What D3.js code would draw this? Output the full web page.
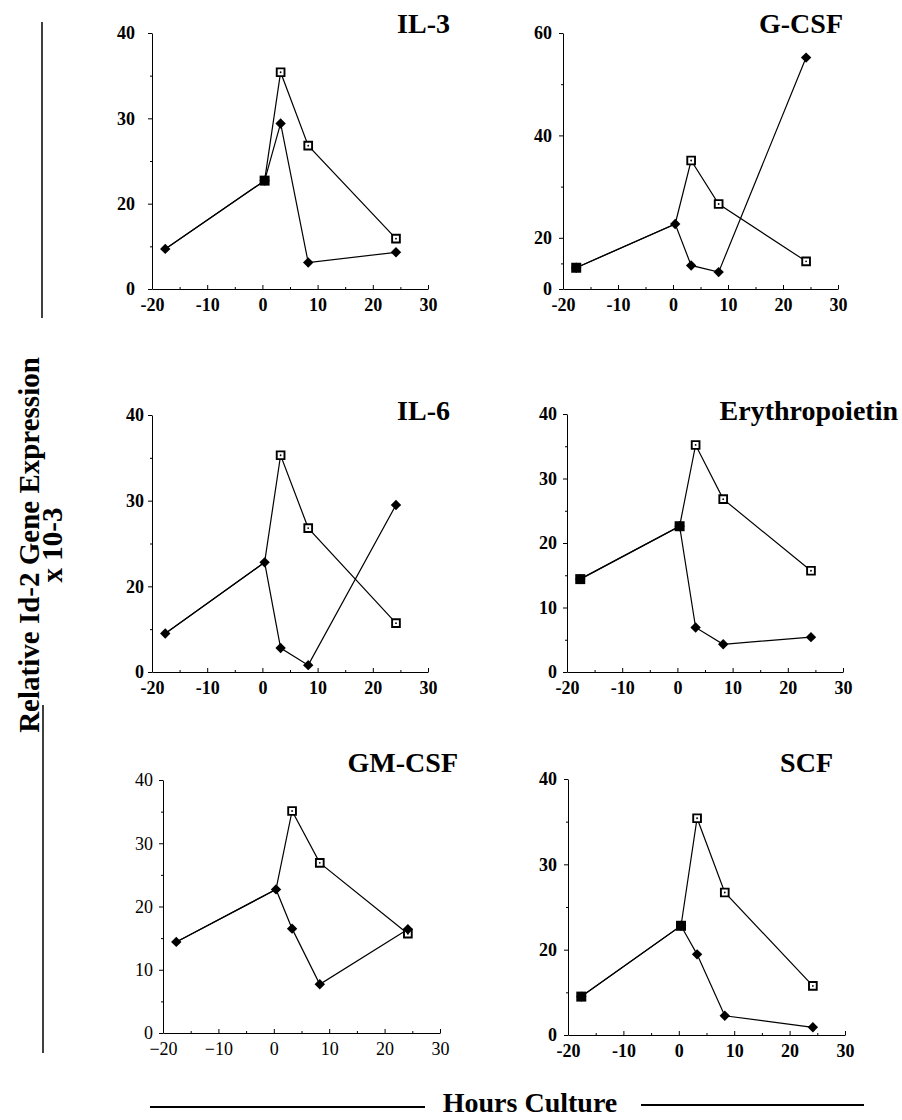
<!DOCTYPE html>
<html>
<head>
<meta charset="utf-8">
<script src="https://cdn.jsdelivr.net/npm/d3@7"></script>
<style>
  body { margin: 0; background: #fff; }
  svg { display: block; }
  text { font-family: "Liberation Serif", "Times New Roman", serif; fill: #000; }
  .tick text { font-size: 18px; font-weight: bold; }
  .plain .tick text { font-weight: normal; }
  .domain, .tick line { stroke: #000; stroke-width: 1px; }
</style>
</head>
<body>
<svg></svg>
<script>
/* global d3 */

// Size of the page
let width = 902,
    height = 1120;

// Sampling times (hours of culture), shared by all panels
let hours = [-17.6, 0.4, 3.3, 8.3, 24.2];
let xTicks = [-20, -10, 0, 10, 20, 30];

let titles = ["IL-3", "G-CSF", "IL-6", "Erythropoietin", "GM-CSF", "SCF"];

// Filled diamonds: cells cultured with the factor
let il3Treated  = [9.4, 22.7, 29.4, 6.2, 8.6];
let gcsfTreated = [8.3, 22.7, 9.2, 6.6, 55.2];
let il6Treated  = [9.0, 22.8, 5.6, 1.6, 29.5];
let epoTreated  = [14.4, 22.6, 6.9, 4.3, 5.4];
let gmTreated   = [14.4, 22.7, 16.5, 7.7, 16.4];
let scfTreated  = [9.0, 22.8, 18.9, 4.5, 1.8];

// Open squares: control (null where no square shows)
let il3Control  = [null, 22.7, 35.4, 26.8, 11.8];
let gcsfControl = [8.3, null, 35.1, 26.6, 10.8];
let il6Control  = [null, null, 35.3, 26.8, 11.4];
let epoControl  = [14.4, 22.6, 35.2, 26.8, 15.7];
let gmControl   = [null, null, 35.1, 26.9, 15.7];
let scfControl  = [9.0, 22.8, 35.4, 26.7, 11.5];

// Y tick labels
let ticks40     = [0, 20, 30, 40];
let ticks60     = [0, 20, 40, 60];
let ticks40full = [0, 10, 20, 30, 40];

// Panel layout (broken = the 0-20 stretch is drawn as short as one 10 step)
let panels = [
    {title: titles[0], treated: il3Treated, control: il3Control, ticks: ticks40, broken: true,
     left: 152, top: 33, w: 276, h: 256, titleX: 450, titleY: 33, gap: 17},
    {title: titles[1], treated: gcsfTreated, control: gcsfControl, ticks: ticks60, broken: true,
     left: 563, top: 33, w: 275, h: 256, titleX: 843, titleY: 33, gap: 11},
    {title: titles[2], treated: il6Treated, control: il6Control, ticks: ticks40, broken: true,
     left: 152, top: 415, w: 276, h: 257, titleX: 450, titleY: 420, gap: 8},
    {title: titles[3], treated: epoTreated, control: epoControl, ticks: ticks40full, broken: false,
     left: 567, top: 414, w: 276, h: 258, titleX: 898, titleY: 420, gap: 10},
    {title: titles[4], treated: gmTreated, control: gmControl, ticks: ticks40full, broken: false,
     left: 163, top: 780, w: 277, h: 253, titleX: 458, titleY: 772, gap: 10, plain: true},
    {title: titles[5], treated: scfTreated, control: scfControl, ticks: ticks40, broken: true,
     left: 568, top: 779, w: 277, h: 256, titleX: 833, titleY: 772, gap: 11}
];

let svg = d3.select("svg")
    .attr("width", width)
    .attr("height", height);

let diamond = d3.symbol().type(d3.symbolSquare).size(54);
let square = d3.symbol().type(d3.symbolSquare).size(60);
let filledSquare = d3.symbol().type(d3.symbolSquare).size(100);

for (let p of panels) {
    let g = svg.append("g")
        .attr("transform", `translate(${p.left},${p.top})`)
        .attr("class", p.plain ? "plain" : null);

    let x = d3.scaleLinear().domain([-20, 30]).range([0, p.w]);
    let yMax = d3.max(p.ticks);
    let y = p.broken
        ? d3.scaleLinear().domain([0, 20, yMax]).range([p.h, p.h - p.h * 10 / (yMax - 10), 0])
        : d3.scaleLinear().domain([0, yMax]).range([p.h, 0]);

    // minor ticks half way between the labelled ones
    let yMinor = d3.pairs(p.ticks, (a, b) => (a + b) / 2);
    let xMinor = d3.pairs(xTicks, (a, b) => (a + b) / 2);

    let fmt = p.plain ? (d => d < 0 ? "\u2212" + (-d) : d) : (d => d);

    g.append("g")
        .call(d3.axisLeft(y).tickValues(p.ticks).tickSizeInner(4).tickSizeOuter(0)
            .tickPadding(p.gap - 4).tickFormat(fmt));
    g.append("g")
        .call(d3.axisLeft(y).tickValues(yMinor).tickSize(2).tickFormat(""))
        .select(".domain").remove();

    g.append("g")
        .attr("transform", `translate(0,${p.h})`)
        .call(d3.axisBottom(x).tickValues(xTicks).tickSizeInner(-4).tickSizeOuter(0)
            .tickPadding(9).tickFormat(fmt));
    g.append("g")
        .attr("transform", `translate(0,${p.h})`)
        .call(d3.axisBottom(x).tickValues(xMinor).tickSize(-2).tickFormat(""))
        .select(".domain").remove();

    g.selectAll(".tick text").style("fill", "#000");

    // Series lines
    let line = d3.line()
        .x(d => x(d[0]))
        .y(d => y(d[1]));

    let treatedPts = hours.map((t, i) => [t, p.treated[i]]);
    let controlPts = hours.map((t, i) => [t, p.control[i] != null ? p.control[i] : p.treated[i]]);

    for (let pts of [controlPts, treatedPts]) {
        g.append("path")
            .datum(pts)
            .attr("d", line)
            .style("fill", "none")
            .style("stroke", "#000")
            .style("stroke-width", "1.2px");
    }

    let shared = (v, i) => v != null && v === p.treated[i];

    // Open squares with a dot
    let open = hours.map((t, i) => [t, p.control[i], i])
        .filter(d => d[1] != null && !shared(d[1], d[2]));
    g.selectAll(".ctl")
        .data(open)
        .enter().append("path")
        .attr("class", "ctl")
        .attr("d", square)
        .attr("transform", d => `translate(${x(d[0])},${y(d[1])})`)
        .style("fill", "#fff")
        .style("stroke", "#000")
        .style("stroke-width", "1.9px");
    g.selectAll(".dot")
        .data(open)
        .enter().append("circle")
        .attr("class", "dot")
        .attr("cx", d => x(d[0]))
        .attr("cy", d => y(d[1]))
        .attr("r", 0.9)
        .style("fill", "#000");

    // Diamonds
    g.selectAll(".trt")
        .data(treatedPts)
        .enter().append("path")
        .attr("class", "trt")
        .attr("d", diamond)
        .attr("transform", d => `translate(${x(d[0])},${y(d[1])}) rotate(45)`)
        .style("fill", "#000");

    // Where both series meet the marker looks like a filled square
    let both = hours.map((t, i) => [t, p.control[i], i])
        .filter(d => shared(d[1], d[2]));
    g.selectAll(".both")
        .data(both)
        .enter().append("path")
        .attr("class", "both")
        .attr("d", filledSquare)
        .attr("transform", d => `translate(${x(d[0])},${y(d[1])})`)
        .style("fill", "#000");

    // Panel title
    svg.append("text")
        .attr("x", p.titleX)
        .attr("y", p.titleY)
        .attr("text-anchor", "end")
        .style("font-size", "28px")
        .style("font-weight", "bold")
        .text(p.title);
}

// Shared y label
let ylab = svg.append("g")
    .attr("transform", "translate(39,545) rotate(-90)");
ylab.append("text")
    .attr("text-anchor", "middle")
    .style("font-size", "29px")
    .style("font-weight", "bold")
    .text("Relative Id-2 Gene Expression");
ylab.append("text")
    .attr("y", 23)
    .attr("text-anchor", "middle")
    .style("font-size", "29px")
    .style("font-weight", "bold")
    .text("x 10-3");

// Brackets at the left
svg.append("line")
    .attr("x1", 42).attr("x2", 42).attr("y1", 22).attr("y2", 318)
    .style("stroke", "#000").style("stroke-width", "1.5px");
svg.append("line")
    .attr("x1", 43).attr("x2", 43).attr("y1", 705).attr("y2", 1053)
    .style("stroke", "#000").style("stroke-width", "1.5px");

// Shared x label with rules on both sides
svg.append("text")
    .attr("x", 530)
    .attr("y", 1112)
    .attr("text-anchor", "middle")
    .style("font-size", "28px")
    .style("font-weight", "bold")
    .text("Hours Culture");
svg.append("line")
    .attr("x1", 150).attr("x2", 425).attr("y1", 1107).attr("y2", 1107)
    .style("stroke", "#000").style("stroke-width", "1.8px");
svg.append("line")
    .attr("x1", 641).attr("x2", 864).attr("y1", 1105).attr("y2", 1105)
    .style("stroke", "#000").style("stroke-width", "1.8px");
</script>
</body>
</html>
